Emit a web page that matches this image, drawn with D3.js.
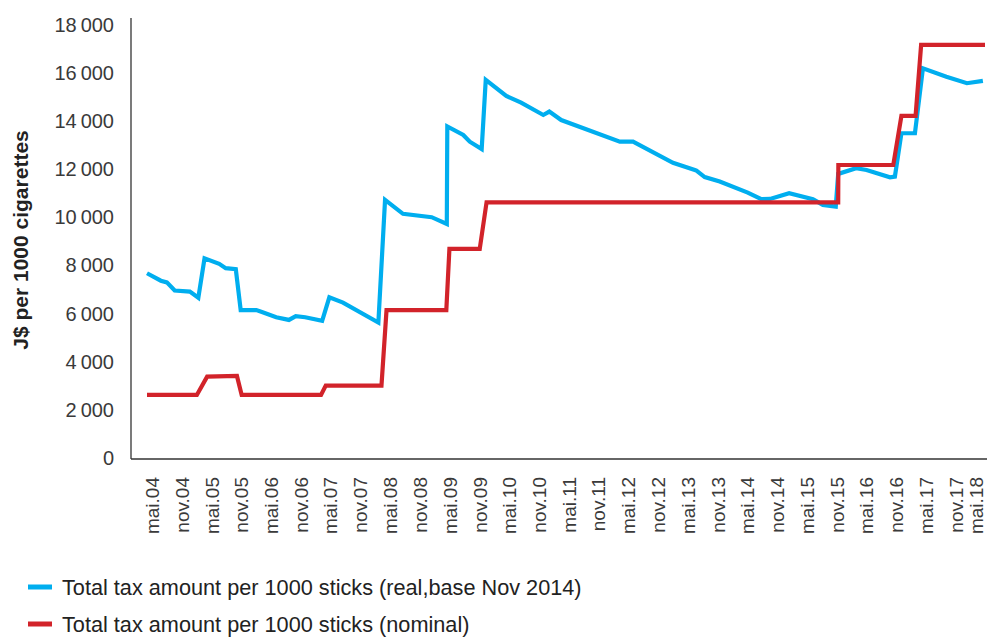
<!DOCTYPE html>
<html>
<head>
<meta charset="utf-8">
<script src="https://cdn.jsdelivr.net/npm/d3@7"></script>
<style>
  body { margin: 0; background: #fff; }
  text { font-family: "Liberation Sans", Arial, sans-serif; }
</style>
</head>
<body>
<div id="root"></div>
<script>
const WIDTH = 987;
const HEIGHT = 637;

// Series values: [date, J$ per 1000]
const realTax = [
    ["2004-04-01", 7680], ["2004-06-25", 7370], ["2004-08-01", 7300], ["2004-09-18", 6960],
    ["2004-12-20", 6920], ["2005-02-10", 6660], ["2005-03-20", 8300], ["2005-06-18", 8070],
    ["2005-07-28", 7890], ["2005-09-28", 7850], ["2005-10-28", 6150], ["2006-02-01", 6150],
    ["2006-03-03", 6080], ["2006-06-03", 5850], ["2006-08-20", 5740], ["2006-10-01", 5900],
    ["2006-11-28", 5850], ["2007-03-12", 5700], ["2007-04-25", 6680], ["2007-07-18", 6460],
    ["2008-02-20", 5630], ["2008-04-01", 10730], ["2008-07-20", 10150], ["2009-01-12", 10010],
    ["2009-04-15", 9730], ["2009-04-18", 13780], ["2009-07-25", 13430], ["2009-09-03", 13150],
    ["2009-11-15", 12840], ["2009-12-10", 15720], ["2010-04-15", 15050], ["2010-07-15", 14770],
    ["2010-11-28", 14260], ["2011-01-04", 14400], ["2011-03-18", 14050], ["2012-03-12", 13150],
    ["2012-06-01", 13150], ["2013-02-01", 12270], ["2013-06-15", 11975], ["2013-06-25", 11950],
    ["2013-08-15", 11680], ["2013-11-15", 11490], ["2014-05-06", 11030], ["2014-07-28", 10760],
    ["2014-09-20", 10770], ["2015-01-15", 11010], ["2015-06-10", 10760], ["2015-08-10", 10520],
    ["2015-10-28", 10450], ["2015-11-12", 11810], ["2016-03-01", 12045], ["2016-05-04", 11975],
    ["2016-09-25", 11670], ["2016-10-25", 11700], ["2016-12-04", 13500], ["2017-02-25", 13500],
    ["2017-04-15", 16200], ["2017-09-06", 15850], ["2018-01-10", 15580], ["2018-04-18", 15680]
];

const nominalTax = [
    ["2004-04-01", 2620], ["2005-02-01", 2620], ["2005-04-05", 3380], ["2005-10-05", 3410],
    ["2005-11-03", 2620], ["2007-03-05", 2620], ["2007-04-03", 3010], ["2008-03-10", 3010],
    ["2008-04-10", 6150], ["2009-04-12", 6150], ["2009-05-01", 8690], ["2009-11-03", 8690],
    ["2009-12-15", 10630], ["2015-11-12", 10630], ["2015-11-13", 12180], ["2016-10-15", 12180],
    ["2016-12-04", 14220], ["2017-03-01", 14220], ["2017-04-04", 17170], ["2018-05-01", 17170]
];

const xLabels = [
    "mai.04", "nov.04", "mai.05", "nov.05", "mai.06", "nov.06", "mai.07", "nov.07",
    "mai.08", "nov.08", "mai.09", "nov.09", "mai.10", "nov.10", "mai.11", "nov.11",
    "mai.12", "nov.12", "mai.13", "nov.13", "mai.14", "nov.14", "mai.15", "nov.15",
    "mai.16", "nov.16", "mai.17", "nov.17", "mai.18"
];
const yTicks = [0, 2000, 4000, 6000, 8000, 10000, 12000, 14000, 16000, 18000];

const seriesNames = [
    "Total tax amount per 1000 sticks (real,base Nov 2014)",
    "Total tax amount per 1000 sticks (nominal)"
];
const seriesColors = ["#00AEEF", "#D2232A"];

const parseDate = d3.timeParse("%Y-%m-%d");
const monthIndex = {mai: 4, nov: 10};
const labelDate = s => {
    const [m, y] = s.split(".");
    return new Date(2000 + (+y), monthIndex[m], 1);
};

const xScale = d3.scaleTime()
    .domain([parseDate("2004-04-01"), parseDate("2018-05-01")])
    .range([147, 985]);

const yScale = d3.scaleLinear()
    .domain([0, 18000])
    .range([458, 25]);

const svg = d3.select("#root")
    .append("svg")
    .attr("width", WIDTH)
    .attr("height", HEIGHT);

// Y axis
const yAxis = d3.axisLeft(yScale)
    .tickValues(yTicks)
    .tickSize(0)
    .tickPadding(17)
    .tickFormat(d => d3.format(",")(d).replace(",", "\u2009"));

const yG = svg.append("g")
    .attr("transform", "translate(131,0)")
    .call(yAxis);
yG.select(".domain").remove();
yG.selectAll("text")
    .attr("font-size", 20)
    .attr("fill", "#3a3a3a")
    .style("font-family", "'Liberation Sans', Arial, sans-serif");

svg.append("line")
    .attr("x1", 131).attr("x2", 131)
    .attr("y1", 18).attr("y2", yScale(0) + 1)
    .attr("stroke", "#333").attr("stroke-width", 1.3);

// X axis
const xAxis = d3.axisBottom(xScale)
    .tickValues(xLabels.map(labelDate))
    .tickSize(0)
    .tickFormat((d, i) => xLabels[i]);

const xG = svg.append("g")
    .attr("transform", `translate(0,${yScale(0) + 1})`)
    .call(xAxis);
xG.select(".domain").remove();
xG.selectAll("text")
    .attr("font-size", 19)
    .attr("fill", "#3a3a3a")
    .style("font-family", "'Liberation Sans', Arial, sans-serif")
    .attr("text-anchor", "end")
    .attr("transform", "rotate(-90)")
    .attr("x", -18)
    .attr("y", (d, i) => i === xLabels.length - 1 ? -9 : 0)
    .attr("dy", "0.35em");

svg.append("line")
    .attr("x1", 131).attr("x2", WIDTH)
    .attr("y1", yScale(0) + 1).attr("y2", yScale(0) + 1)
    .attr("stroke", "#333").attr("stroke-width", 1.3);

// Y title
svg.append("text")
    .attr("transform", "translate(21,240) rotate(-90)")
    .attr("text-anchor", "middle")
    .attr("dy", "0.35em")
    .attr("font-size", 21)
    .attr("font-weight", "bold")
    .attr("fill", "#222")
    .text("J$ per 1000 cigarettes");

// Lines
const line = d3.line()
    .x(d => xScale(parseDate(d[0])))
    .y(d => yScale(d[1]));

[realTax, nominalTax].forEach((data, i) => {
    svg.append("path")
        .datum(data)
        .attr("fill", "none")
        .attr("stroke", seriesColors[i])
        .attr("stroke-width", 4.2)
        .attr("stroke-linejoin", "miter")
        .attr("d", line);
});

// Legend
const legend = svg.append("g")
    .attr("transform", "translate(28,587)");

seriesNames.forEach((name, i) => {
    const g = legend.append("g").attr("transform", `translate(0,${i * 37})`);
    g.append("line")
        .attr("x1", 0).attr("x2", 24)
        .attr("stroke", seriesColors[i])
        .attr("stroke-width", 5);
    g.append("text")
        .attr("x", 34)
        .attr("dy", "0.35em")
        .attr("font-size", 21.7)
        .attr("fill", "#222")
        .text(name);
});
</script>
</body>
</html>
